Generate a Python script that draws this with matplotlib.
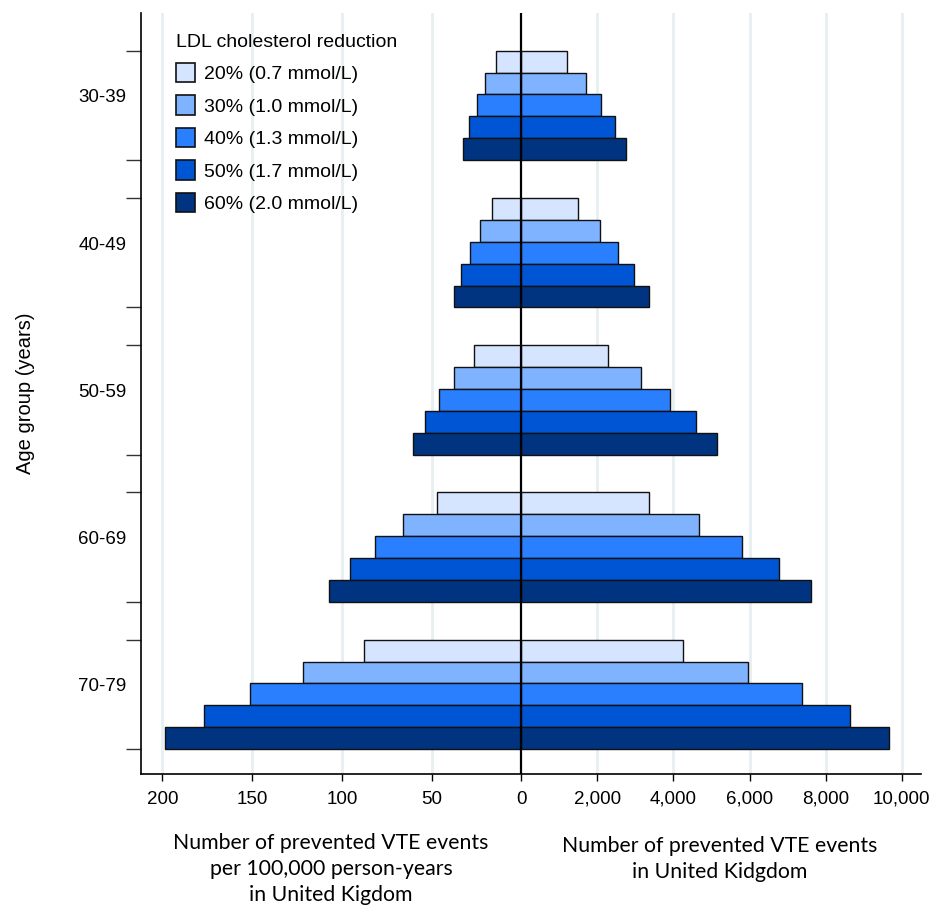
import matplotlib

matplotlib.use("Agg")
import matplotlib.pyplot as plt
from matplotlib.patches import Patch

# age groups, top to bottom
age_groups = ["30-39", "40-49", "50-59", "60-69", "70-79"]

# LDL reduction levels
levels = ["20% (0.7 mmol/L)", "30% (1.0 mmol/L)", "40% (1.3 mmol/L)",
          "50% (1.7 mmol/L)", "60% (2.0 mmol/L)"]
colors = ["#d5e5ff", "#80b3ff", "#2a7fff", "#0055d4", "#003380"]

# prevented VTE events per 100,000 person-years (left side), one list per level
rate_20 = [14.1, 16.3, 26.6, 47.2, 87.7]
rate_30 = [20.1, 22.9, 37.3, 65.8, 121.9]
rate_40 = [24.7, 28.6, 46.1, 81.8, 151.4]
rate_50 = [29.0, 33.6, 53.7, 95.5, 177.1]
rate_60 = [32.7, 37.7, 60.6, 107.4, 198.8]

# prevented VTE events in UK (right side)
count_20 = [1209, 1481, 2270, 3356, 4258]
count_30 = [1700, 2068, 3154, 4670, 5966]
count_40 = [2103, 2550, 3908, 5808, 7385]
count_50 = [2454, 2970, 4583, 6781, 8636]
count_60 = [2743, 3348, 5135, 7622, 9671]

rates = [rate_20, rate_30, rate_40, rate_50, rate_60]
counts = [count_20, count_30, count_40, count_50, count_60]

left_ticks = [200, 150, 100, 50]
right_ticks = [0, 2000, 4000, 6000, 8000, 10000]

# left side is drawn in the same units as the right side
scale = 47.15
group_step = 6.72

plt.rcParams["font.family"] = ["Liberation Sans", "DejaVu Sans"]

fig = plt.figure(figsize=(9.35, 9.10), dpi=100)
ax = fig.add_axes([0.1513, 0.1495, 0.8334, 0.8363])

for gx in [-t * scale for t in left_ticks] + right_ticks[1:]:
    ax.axvline(gx, color="#e6eff1", lw=2, zorder=0)

for i, (lvl_rates, lvl_counts) in enumerate(zip(rates, counts)):
    ys = [g * group_step + i + 0.5 for g in range(len(age_groups))]
    ax.barh(ys, [-r * scale for r in lvl_rates], height=1.0, color=colors[i],
            edgecolor="#111111", linewidth=1.0, zorder=2)
    ax.barh(ys, lvl_counts, height=1.0, color=colors[i],
            edgecolor="#111111", linewidth=1.0, zorder=2)

ax.axvline(0, color="black", lw=1.6, zorder=4)

ax.set_xlim(-9982, 10497)
ax.set_ylim((len(age_groups) - 1) * group_step + 5 + 1.13, -1.72)

ax.set_xticks([-t * scale for t in left_ticks] + right_ticks)
ax.set_xticklabels([str(t) for t in left_ticks] + [f"{t:,}" for t in right_ticks])
ax.tick_params(axis="x", length=5, width=1, pad=7, labelsize=13.5)

edges = []
for g in range(len(age_groups)):
    edges += [g * group_step, g * group_step + 5]
ax.set_yticks(edges)
ax.set_yticklabels([])
ax.set_yticks([g * group_step + 2.07 for g in range(len(age_groups))], minor=True)
ax.set_yticklabels(age_groups, minor=True)
ax.tick_params(axis="y", which="major", length=11, width=1, color="#333333")
ax.tick_params(axis="y", which="minor", length=0, pad=11, labelsize=13.5)

ax.spines["top"].set_visible(False)
ax.spines["right"].set_visible(False)
ax.spines["left"].set_linewidth(1.2)
ax.spines["bottom"].set_linewidth(1.2)

ax.set_ylabel("Age group (years)", fontsize=14.5, labelpad=31)

handles = [Patch(facecolor=c, edgecolor="#111111", linewidth=1.2) for c in colors]
leg = ax.legend(handles, levels, title="LDL cholesterol reduction",
                loc="upper left", bbox_to_anchor=(166 / 935, 1 - 24 / 910),
                bbox_transform=fig.transFigure, frameon=False, fontsize=14,
                title_fontsize=14, alignment="left", borderpad=0,
                handlelength=1.0, handleheight=1.15, labelspacing=0.63,
                handletextpad=0.45)

fig.text(331 / 935, 1 - 869 / 910,
         "Number of prevented VTE events\nper 100,000 person-years\nin United Kigdom",
         ha="center", va="center", fontsize=15.3, family="Lato", linespacing=1.38)
fig.text(720 / 935, 1 - 859 / 910,
         "Number of prevented VTE events\nin United Kidgdom",
         ha="center", va="center", fontsize=15.3, family="Lato", linespacing=1.38)

fig.savefig("out.png", dpi=100)
plt.close(fig)
